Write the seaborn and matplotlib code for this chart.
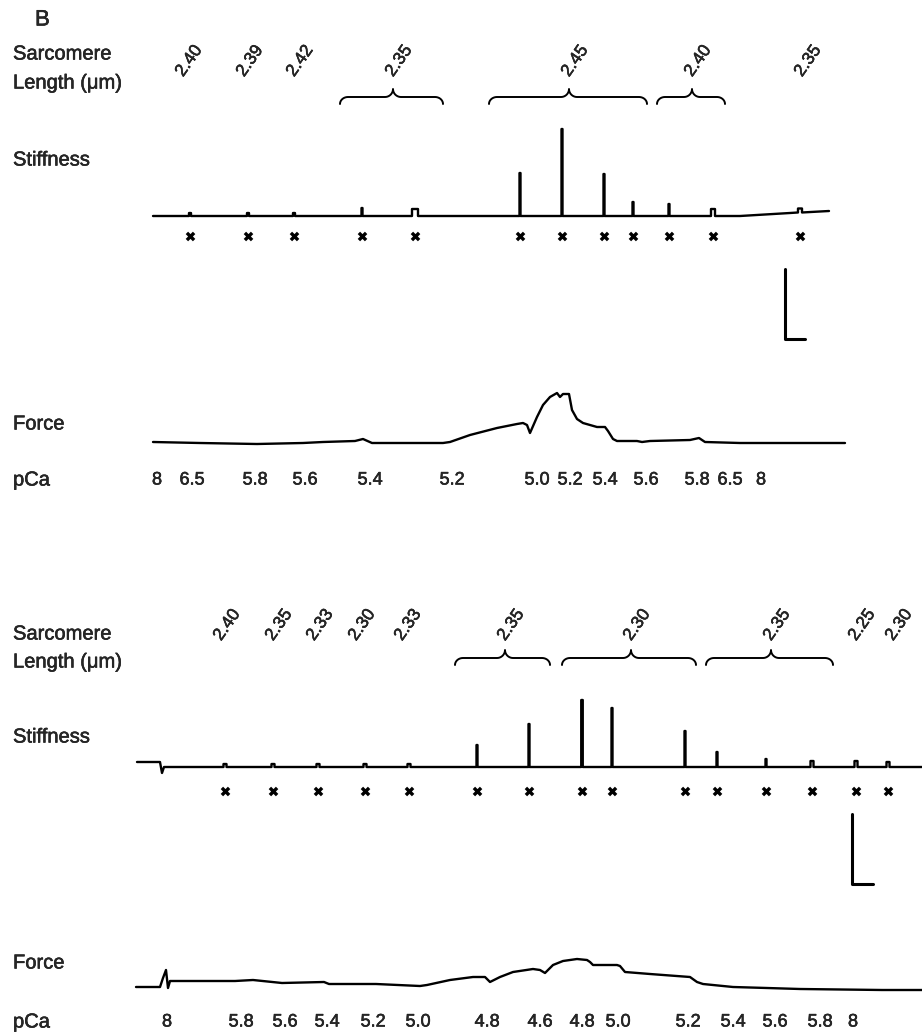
import numpy as np
import seaborn as sns
import matplotlib.pyplot as plt
import matplotlib.patheffects as pe

sns.set_theme(style="white")
plt.rcParams["font.family"] = ["Liberation Sans", "DejaVu Sans"]

# ---------------- data (x = time position along the record) ----------------
# upper record
sl_single_x_1 = [189, 250, 300, 808]
sl_single_lab_1 = ["2.40", "2.39", "2.42", "2.35"]
brace_lo_1 = [340, 489, 657]
brace_hi_1 = [443, 647, 725]
brace_mid_1 = [393, 569, 692]
brace_lab_1 = ["2.35", "2.45", "2.40"]

stiff_x_1 = [190, 248, 294, 362, 415, 520, 562, 604, 633, 669, 713, 800]
stiff_h_1 = [3, 3, 3, 8, 7, 43, 87, 42, 14, 12, 7, 4]
stiff_w_1 = [2, 2, 2, 1, 6, 1, 1, 1, 1, 1, 4, 4]
drift_x_1 = [153, 740, 790, 829]
drift_y_1 = [0, 0, 3, 5]

force_x_1 = [153, 200, 257, 303, 323, 355, 363, 372, 443, 450, 470, 497, 517, 523,
             527, 530, 537, 543, 550, 557, 560, 563, 569, 572, 577, 583, 597, 605,
             608, 613, 617, 637, 642, 650, 690, 699, 705, 740, 845]
force_y_1 = [1, 0, -1, 0, 1, 2, 4, 0, 0, 1, 8, 15, 19, 20, 18, 10, 26, 38, 46, 50,
             46, 49, 49, 33, 24, 20, 16, 16, 12, 4, 2, 2, 1, 2, 3, 5, 1, 0, 0]

pca_x_1 = [157, 192, 255, 305, 370, 452, 537, 570, 605, 646, 697, 730, 761]
pca_lab_1 = ["8", "6.5", "5.8", "5.6", "5.4", "5.2", "5.0", "5.2", "5.4", "5.6",
             "5.8", "6.5", "8"]

# lower record
sl_single_x_2 = [227, 279, 320, 362, 408, 862, 899]
sl_single_lab_2 = ["2.40", "2.35", "2.33", "2.30", "2.33", "2.25", "2.30"]
brace_lo_2 = [455, 562, 706]
brace_hi_2 = [550, 696, 833]
brace_mid_2 = [505, 631, 771]
brace_lab_2 = ["2.35", "2.30", "2.35"]

stiff_x_2 = [225, 273, 318, 365, 409, 477, 529, 582, 612, 685, 717, 766, 812, 856, 888]
stiff_h_2 = [3, 3, 3, 3, 3, 22, 43, 67, 59, 36, 15, 8, 6, 6, 5]
stiff_w_2 = [3, 3, 3, 3, 3, 1, 1, 1.5, 1, 1, 1, 1, 3, 3, 3]
drift_x_2 = [137, 160, 162, 164, 922]
drift_y_2 = [5, 5, -6, 0, 0]

force_x_2 = [136, 160, 163, 166, 168, 170, 180, 235, 253, 282, 324, 329, 376, 420,
             427, 450, 473, 485, 490, 500, 513, 533, 540, 545, 553, 563, 577, 587,
             590, 593, 617, 620, 625, 650, 690, 697, 703, 733, 767, 800, 882, 922]
force_y_2 = [1, 1, 10, 18, 0, 7, 7, 7, 8, 5, 6, 4, 4, 2, 3, 8, 11, 11, 6, 11, 16,
             19, 18, 15, 23, 27, 29, 28, 26, 23, 23, 22, 16, 14, 11, 6, 4, 1, 0,
             -1, -2, -2]

pca_x_2 = [167, 241, 285, 327, 373, 418, 487, 540, 582, 618, 688, 733, 775, 820, 853]
pca_lab_2 = ["8", "5.8", "5.6", "5.4", "5.2", "5.0", "4.8", "4.6", "4.8", "5.0",
             "5.2", "5.4", "5.6", "5.8", "8"]

# slightly heavier text, like the printed figure
heavy = [pe.withStroke(linewidth=0.35, foreground="black")]


# ---------------- helpers ----------------
def stiffness_trace(dx, dy, sx, sh, sw):
    xs = list(dx)
    ys = list(dy)
    for x, h, w in zip(sx, sh, sw):
        b = np.interp(x, dx, dy)
        xs += [x - w / 2 - 0.01, x - w / 2, x + w / 2, x + w / 2 + 0.01]
        ys += [b, b + h, b + h, b]
    order = np.argsort(xs, kind="stable")
    return np.array(xs)[order], np.array(ys)[order]


def brace(ax, x0, x1, xc, y, r=8, d_end=7, d_cusp=8):
    t = np.linspace(0, np.pi / 2, 12)
    bx = list(x0 + r * (1 - np.cos(t)))
    by = list(y + d_end * (1 - np.sin(t)))
    bx += list(xc - r + r * np.sin(t))
    by += list(y - d_cusp * (1 - np.cos(t)))
    bx += list(xc + r - r * np.cos(t))
    by += list(y - d_cusp * (1 - np.cos(t)))[::-1]
    bx += list(x1 - r + r * np.sin(t))
    by += list(y + d_end * (1 - np.cos(t)))
    ax.plot(bx, by, color="black", lw=1.4)


def panel(ax, sl_x, sl_lab, b_lo, b_hi, b_mid, b_lab, st_x, st_h, st_w, dr_x, dr_y,
          f_x, f_y, p_x, p_lab, layout):
    ty, by, sy, my, fy, py, label_y = layout
    names = ["Sarcomere", "Length (\u03bcm)", "Stiffness", "Force", "pCa"]
    for name, yy in zip(names, label_y):
        ax.text(13, yy, name, fontsize=14.5, va="center", path_effects=heavy)

    for x, s in zip(sl_x, sl_lab):
        ax.text(x, ty, s, fontsize=12.5, rotation=55, ha="center", va="center",
                path_effects=heavy)
    for lo, hi, mid, s in zip(b_lo, b_hi, b_mid, b_lab):
        brace(ax, lo, hi, mid, by)
        ax.text(mid + 6, ty, s, fontsize=12.5, rotation=55, ha="center",
                va="center", path_effects=heavy)

    xs, ys = stiffness_trace(dr_x, dr_y, st_x, st_h, st_w)
    sns.lineplot(x=xs, y=sy - ys, sort=False, estimator=None, color="black",
                 lw=1.7, ax=ax)
    sns.scatterplot(x=st_x, y=[my] * len(st_x), marker="X", s=48, color="black",
                    linewidth=0, ax=ax)

    sns.lineplot(x=f_x, y=fy - np.array(f_y), sort=False, estimator=None,
                 color="black", lw=1.7, ax=ax)
    for x, s in zip(p_x, p_lab):
        ax.text(x, py, s, fontsize=13, ha="center", va="center",
                path_effects=heavy)


fig = plt.figure(figsize=(9.22, 10.34), dpi=100)
ax = fig.add_axes([0, 0, 1, 1])

ax.text(35, 20, "B", fontsize=16, va="center", path_effects=heavy)

# layout: label row, brace line, stiffness baseline, marker row, force baseline,
# pCa row, left labels
panel(ax, sl_single_x_1, sl_single_lab_1, brace_lo_1, brace_hi_1, brace_mid_1,
      brace_lab_1, stiff_x_1, stiff_h_1, stiff_w_1, drift_x_1, drift_y_1,
      force_x_1, force_y_1, pca_x_1, pca_lab_1,
      (61, 97, 216, 236, 443, 480, (54, 83, 160, 424, 480)))
panel(ax, sl_single_x_2, sl_single_lab_2, brace_lo_2, brace_hi_2, brace_mid_2,
      brace_lab_2, stiff_x_2, stiff_h_2, stiff_w_2, drift_x_2, drift_y_2,
      force_x_2, force_y_2, pca_x_2, pca_lab_2,
      (625, 658, 767, 791, 988, 1022, (634, 662, 737, 963, 1022)))

# calibration bars
ax.plot([785, 785, 805], [269, 339, 339], color="black", lw=2.2)
ax.plot([852, 852, 873], [814, 884, 884], color="black", lw=2.2)

ax.set_xlim(0, 922)
ax.set_ylim(1034, 0)
ax.axis("off")
fig.savefig("out.png", dpi=100)
